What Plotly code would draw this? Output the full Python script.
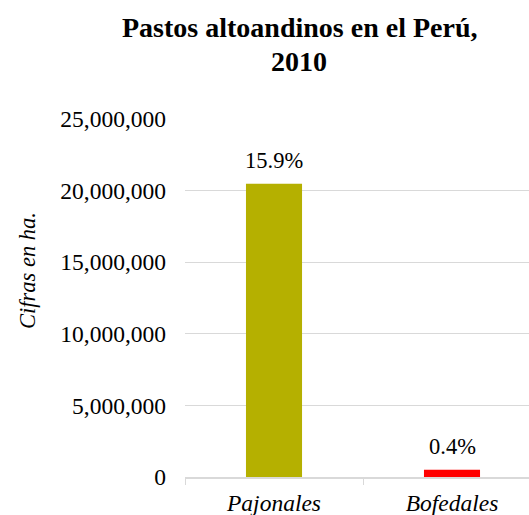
import plotly.graph_objects as go

# Superficie de pastos altoandinos (hectáreas) y participación en el territorio
categorias = ["Pajonales", "Bofedales"]
hectareas = [20480000, 510000]
porcentajes = ["15.9%", "0.4%"]
colores = ["#B5B000", "#FF0000"]
ticks_y = [0, 5000000, 10000000, 15000000, 20000000, 25000000]
ticks_y_texto = ["0", "5,000,000", "10,000,000", "15,000,000", "20,000,000", "25,000,000"]
titulo = ["Pastos altoandinos en el Perú,", "2010"]

SERIF = "Liberation Serif"
W, H = 529, 515
ML, MR, MT, MB = 185, 0, 119, 38

fig = go.Figure()
fig.add_trace(go.Bar(
    x=categorias,
    y=hectareas,
    marker=dict(color=colores, line=dict(width=0)),
    width=0.315,
    hoverinfo="skip",
))

# Etiquetas de porcentaje sobre cada barra
for cat, val, pct in zip(categorias, hectareas, porcentajes):
    fig.add_annotation(
        x=cat, y=val, xref="x", yref="y",
        text=pct, showarrow=False,
        yanchor="bottom", yshift=9,
        font=dict(family=SERIF, size=22.5, color="#000000"),
    )

plot_h = H - MT - MB
plot_w = W - ML - MR

def px_x(px):
    return (px - ML) / plot_w

def px_y(py):
    return (H - MB - py) / plot_h

# Título en dos líneas
for linea, centro in zip(titulo, [28, 62]):
    fig.add_annotation(
        x=px_x(299), y=px_y(centro), xref="paper", yref="paper",
        text=f"<b>{linea}</b>", showarrow=False,
        xanchor="center", yanchor="middle",
        font=dict(family=SERIF, size=28, color="#000000"),
    )

# Título del eje vertical
fig.add_annotation(
    x=px_x(27), y=px_y(271), xref="paper", yref="paper",
    text="<i>Cifras en ha.</i>", showarrow=False, textangle=-90,
    xanchor="center", yanchor="middle",
    font=dict(family=SERIF, size=22.5, color="#000000"),
)

fig.update_layout(
    width=W, height=H,
    margin=dict(l=ML, r=MR, t=MT, b=MB, autoexpand=False),
    paper_bgcolor="white", plot_bgcolor="white",
    showlegend=False,
    font=dict(family=SERIF),
    xaxis=dict(
        range=[-0.5, -0.5 + plot_w / 178.0],
        tickmode="array", tickvals=[0, 1],
        ticktext=["<i>Pajonales</i>", "<i>Bofedales</i>"],
        tickfont=dict(family=SERIF, size=23.5, color="#000000"),
        showgrid=False, zeroline=False,
        showline=True, linecolor="#D9D9D9", linewidth=1.5,
        ticks="outside", tickson="boundaries", ticklen=6,
        tickcolor="#D9D9D9", tickwidth=1,
        ticklabelstandoff=4,
        automargin=False, fixedrange=True,
    ),
    yaxis=dict(
        range=[0, 25000000],
        tickmode="array", tickvals=ticks_y, ticktext=ticks_y_texto,
        tickfont=dict(family=SERIF, size=23.5, color="#000000"),
        showgrid=True, gridcolor="#D9D9D9", gridwidth=1,
        zeroline=False, showline=False,
        ticks="", ticklabelstandoff=18,
        automargin=False, fixedrange=True,
    ),
)

fig.write_html("out.html")
